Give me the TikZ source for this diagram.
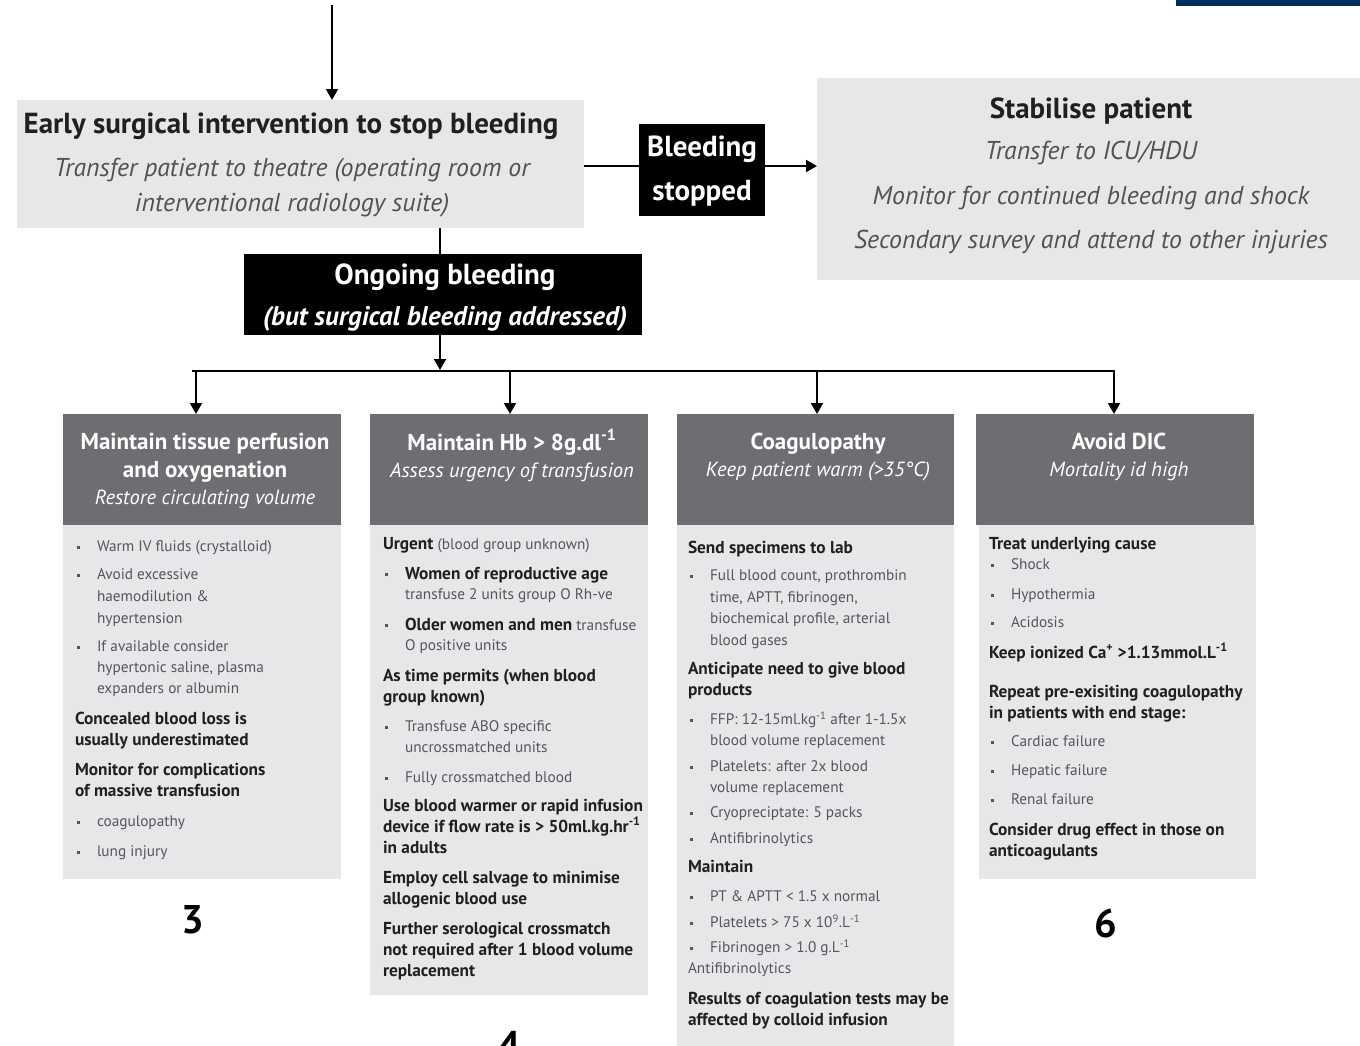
\documentclass[tikz,border=0pt]{standalone}
\usepackage{fontspec}
\setmainfont{PT Sans}
\usetikzlibrary{arrows.meta}
\definecolor{lgray}{HTML}{E6E7E8}
\definecolor{dgray}{HTML}{6D6E71}
\definecolor{navy}{HTML}{00305F}
\definecolor{txtgray}{HTML}{515254}
\definecolor{bodygray}{HTML}{55565A}
\definecolor{ink}{HTML}{231F20}
\newcommand\bu{\makebox[20pt][l]{\raisebox{3pt}{\rule{3pt}{3pt}}}}
\newcommand\bk[1]{{\fontsize{17.3}{20}\selectfont\bfseries\color{ink}#1}}
\begin{document}
\begin{tikzpicture}[x=1pt,y=-1pt,
  every node/.style={inner sep=0pt,outer sep=0pt},
  lbox/.style={fill=lgray,draw=none,anchor=north west},
  kbox/.style={fill=black,draw=none,anchor=north west},
  hbox/.style={fill=dgray,draw=none,anchor=north west},
  ttl/.style={font=\fontsize{29}{32}\selectfont\bfseries,text=ink,anchor=base},
  tit/.style={font=\fontsize{25.8}{30}\selectfont\itshape,text=txtgray,anchor=base},
  wb/.style={font=\fontsize{29}{32}\selectfont\bfseries,text=white,anchor=base},
  wbi/.style={font=\fontsize{27}{30}\selectfont\bfseries\itshape,text=white,anchor=base},
  hb/.style={font=\fontsize{23}{26}\selectfont\bfseries,text=white,anchor=base},
  hi/.style={font=\fontsize{20.5}{24}\selectfont\itshape,text=white,anchor=base},
  bb/.style={font=\fontsize{17.3}{20}\selectfont\bfseries,text=ink,anchor=base west},
  br/.style={font=\fontsize{15.3}{18}\selectfont,text=bodygray,anchor=base west},
  num/.style={font=\fontsize{40}{44}\selectfont\bfseries,text=black,anchor=base},
  ln/.style={line width=2pt,draw=black},
  arr/.style={line width=2pt,draw=black,-{Triangle[length=11pt,width=12pt]}}]
\useasboundingbox (0,0) rectangle (1360,1045);
\clip (0,0) rectangle (1360,1045);
\fill[white] (0,0) rectangle (1360,1045);
\fill[navy] (1176,0) rectangle (1365,6);

% top boxes
\node[lbox,minimum width=567pt,minimum height=128pt] (early) at (17,100) {};
\node[kbox,minimum width=126pt,minimum height=92pt] (stopped) at (639,124) {};
\node[lbox,minimum width=550pt,minimum height=202pt] (stab) at (817,78) {};
\node[kbox,minimum width=398pt,minimum height=81pt] (ongoing) at (244,254) {};

\node[ttl] (e1) at (291,133) {Early surgical intervention to stop bleeding};
\node[tit] (e2) at (292,176) {Transfer patient to theatre (operating room or};
\node[tit] (e3) at (292,211) {interventional radiology suite)};

\node[wb] (s1) at (702,156) {Bleeding};
\node[wb] (s2) at (702,200) {stopped};

\node[ttl] (p1) at (1091,118) {Stabilise patient};
\node[tit] (p2) at (1091,159) {Transfer to ICU/HDU};
\node[tit] (p3) at (1091,204) {Monitor for continued bleeding and shock};
\node[tit] (p4) at (1091,248) {Secondary survey and attend to other injuries};

\node[wb] (o1) at (445,284) {Ongoing bleeding};
\node[wbi] (o2) at (445,325) {(but surgical bleeding addressed)};

% column boxes
\node[hbox,minimum width=278pt,minimum height=111pt] (h1) at (63,414) {};
\node[hbox,minimum width=278pt,minimum height=111pt] (h2) at (370,414) {};
\node[hbox,minimum width=277pt,minimum height=111pt] (h3) at (677,414) {};
\node[hbox,minimum width=278pt,minimum height=111pt] (h4) at (976,414) {};
\node[lbox,minimum width=278pt,minimum height=354pt] (b1) at (63,525) {};
\node[lbox,minimum width=278pt,minimum height=470pt] (b2) at (370,525) {};
\node[lbox,minimum width=277pt,minimum height=530pt] (b3) at (677,525) {};
\node[lbox,minimum width=277pt,minimum height=354pt] (b4) at (979,525) {};

% headers
\node[hb] (h1a) at (205,449) {Maintain tissue perfusion};
\node[hb] (h1b) at (205,477) {and oxygenation};
\node[hi] (h1c) at (205,504) {Restore circulating volume};
\node[hb] (h2a) at (512,450) {Maintain Hb > 8g.dl\textsuperscript{-1}};
\node[hi] (h2b) at (512,477) {Assess urgency of transfusion};
\node[hb] (h3a) at (818,449) {Coagulopathy};
\node[hi] (h3b) at (818,476) {Keep patient warm (>35°C)};
\node[hb] (h4a) at (1119,449) {Avoid DIC};
\node[hi] (h4b) at (1119,476) {Mortality id high};

% column 1
\node[br] (c1a) at (77,551.5) {\bu Warm IV fluids (crystalloid)};
\node[br] (c1b) at (77,579.5) {\bu Avoid excessive};
\node[br] (c1c) at (97,601.5) {haemodilution \&};
\node[br] (c1d) at (97,623.5) {hypertension};
\node[br] (c1e) at (77,651.5) {\bu If available consider};
\node[br] (c1f) at (97,672.5) {hypertonic saline, plasma};
\node[br] (c1g) at (97,693.5) {expanders or albumin};
\node[bb] (c1h) at (75,724) {Concealed blood loss is};
\node[bb] (c1i) at (75,745) {usually underestimated};
\node[bb] (c1j) at (75,775) {Monitor for complications};
\node[bb] (c1k) at (75,796) {of massive transfusion};
\node[br] (c1l) at (77,826.5) {\bu coagulopathy};
\node[br] (c1m) at (77,856.5) {\bu lung injury};

% column 2
\node[br] (c2a) at (383,549) {\bk{Urgent} (blood group unknown)};
\node[br] (c2b) at (385,579) {\bu \bk{Women of reproductive age}};
\node[br] (c2c) at (405,599.5) {transfuse 2 units group O Rh-ve};
\node[br] (c2d) at (385,630) {\bu \bk{Older women and men} transfuse};
\node[br] (c2e) at (405,650.5) {O positive units};
\node[bb] (c2f) at (383,681) {As time permits (when blood};
\node[bb] (c2g) at (383,702) {group known)};
\node[br] (c2h) at (385,731.5) {\bu Transfuse ABO specific};
\node[br] (c2i) at (405,752.5) {uncrossmatched units};
\node[br] (c2j) at (385,782.5) {\bu Fully crossmatched blood};
\node[bb] (c2k) at (383,811) {Use blood warmer or rapid infusion};
\node[bb] (c2l) at (383,832) {device if flow rate is > 50ml.kg.hr\textsuperscript{-1}};
\node[bb] (c2m) at (383,853) {in adults};
\node[bb] (c2n) at (383,883) {Employ cell salvage to minimise};
\node[bb] (c2o) at (383,904) {allogenic blood use};
\node[bb] (c2p) at (383,934) {Further serological crossmatch};
\node[bb] (c2q) at (383,955) {not required after 1 blood volume};
\node[bb] (c2r) at (383,976) {replacement};

% column 3
\node[bb] (c3a) at (688,553) {Send specimens to lab};
\node[br] (c3b) at (690,580.5) {\bu Full blood count, prothrombin};
\node[br] (c3c) at (710,602.5) {time, APTT, fibrinogen,};
\node[br] (c3d) at (710,623.5) {biochemical profile, arterial};
\node[br] (c3e) at (710,645.5) {blood gases};
\node[bb] (c3f) at (688,674) {Anticipate need to give blood};
\node[bb] (c3g) at (688,695) {products};
\node[br] (c3h) at (690,724.5) {\bu FFP: 12-15ml.kg\textsuperscript{-1} after 1-1.5x};
\node[br] (c3i) at (710,745.5) {blood volume replacement};
\node[br] (c3j) at (690,771.5) {\bu Platelets: after 2x blood};
\node[br] (c3k) at (710,792.5) {volume replacement};
\node[br] (c3l) at (690,817.5) {\bu Cryopreciptate: 5 packs};
\node[br] (c3m) at (690,843.5) {\bu Antifibrinolytics};
\node[bb] (c3n) at (688,872) {Maintain};
\node[br] (c3o) at (690,901.5) {\bu PT \& APTT < 1.5 x normal};
\node[br] (c3p) at (690,927.5) {\bu Platelets > 75 x 10\textsuperscript{9}.L\textsuperscript{-1}};
\node[br] (c3q) at (690,952.5) {\bu Fibrinogen > 1.0 g.L\textsuperscript{-1}};
\node[br] (c3r) at (688,973.5) {Antifibrinolytics};
\node[bb] (c3s) at (688,1004) {Results of coagulation tests may be};
\node[bb] (c3t) at (688,1025) {affected by colloid infusion};

% column 4
\node[bb] (c4a) at (989,549) {Treat underlying cause};
\node[br] (c4b) at (991,569.5) {\bu Shock};
\node[br] (c4c) at (991,599.5) {\bu Hypothermia};
\node[br] (c4d) at (991,627.5) {\bu Acidosis};
\node[bb] (c4e) at (989,658) {Keep ionized Ca\textsuperscript{+} >1.13mmol.L\textsuperscript{-1}};
\node[bb] (c4f) at (989,697) {Repeat pre-exisiting coagulopathy};
\node[bb] (c4g) at (989,718) {in patients with end stage:};
\node[br] (c4h) at (991,746.5) {\bu Cardiac failure};
\node[br] (c4i) at (991,775.5) {\bu Hepatic failure};
\node[br] (c4j) at (991,804.5) {\bu Renal failure};
\node[bb] (c4k) at (989,835) {Consider drug effect in those on};
\node[bb] (c4l) at (989,856) {anticoagulants};

% numbers
\node[num] (n3) at (193,933) {3};
\node[num] (n4) at (510,1059) {4};
\node[num] (n6) at (1106,937) {6};

% connectors
\coordinate (topin) at (332,5);
\draw[arr] (topin) -- (topin |- early.north);
\coordinate (ly) at (0,166);
\draw[ln] (early.east |- ly) -- (stopped.west |- ly);
\draw[arr] (stopped.east |- ly) -- (stab.west |- ly);
\coordinate (j1) at (440,0);
\draw[ln] (early.south -| j1) -- (ongoing.north -| j1);
\coordinate (busin) at (440,370);
\draw[arr] (ongoing.south -| j1) -- (busin);
\coordinate (busL) at (192,371);
\coordinate (busR) at (1115,371);
\draw[ln] (busL) -- (busR);
\coordinate (a1) at (196,371);
\coordinate (a2) at (510,371);
\coordinate (a3) at (817,371);
\coordinate (a4) at (1114,371);
\draw[arr] (a1) -- (a1 |- h1.north);
\draw[arr] (a2) -- (a2 |- h2.north);
\draw[arr] (a3) -- (a3 |- h3.north);
\draw[arr] (a4) -- (a4 |- h4.north);
\end{tikzpicture}
\end{document}
